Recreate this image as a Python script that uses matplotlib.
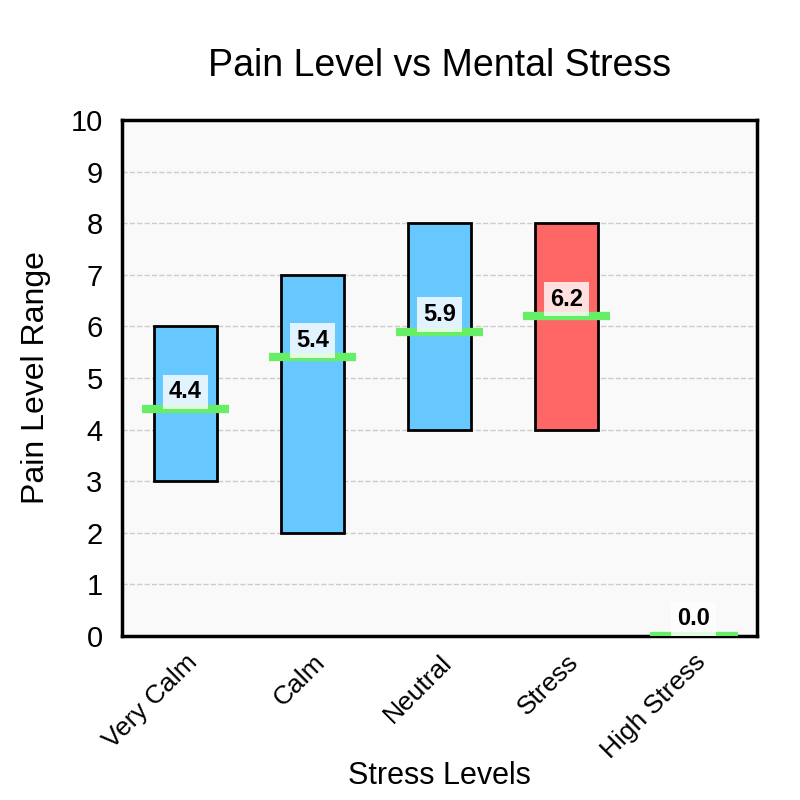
import matplotlib
matplotlib.use("Agg")
from matplotlib import pyplot as plt
import numpy as np

categories = ["Very Calm", "Calm", "Neutral", "Stress", "High Stress"]
low_values = [3, 2, 4, 4, 0]
high_values = [6, 7, 8, 8, 0]
mean_values = [4.4, 5.4, 5.9, 6.2, 0.0]
bar_colors = ["#66c8ff", "#66c8ff", "#66c8ff", "#ff6666", "#66c8ff"]

plt.rcParams['font.family'] = ['Liberation Sans', 'DejaVu Sans']

fig = plt.figure(figsize=(8, 8), dpi=100)
ax = fig.add_axes([0.1525, 0.205, 0.794, 0.645])
ax.set_facecolor("#f9f9f9")

x = np.arange(len(categories))
heights = np.array(high_values) - np.array(low_values)
for i in range(len(categories)):
    if heights[i] > 0:
        ax.bar(x[i], heights[i], bottom=low_values[i], width=0.5,
               color=bar_colors[i], edgecolor="black", linewidth=2, zorder=2)
    ax.hlines(mean_values[i], x[i] - 0.345, x[i] + 0.345, color="#66ee66",
              linewidth=6, zorder=3)
    ax.text(x[i], mean_values[i] + 0.33, f"{mean_values[i]:.1f}", ha="center",
            va="center", fontsize=17, fontweight="bold", zorder=4,
            bbox=dict(boxstyle="square,pad=0.25", facecolor="white",
                      edgecolor="none", alpha=0.8))

ax.set_xlim(-0.5, len(categories) - 0.5)
ax.set_ylim(0, 10)
ax.set_yticks(range(0, 11))
ax.set_xticks(x)
ax.set_xticklabels(categories, rotation=45, ha="right", rotation_mode="anchor",
                   fontsize=19)
ax.tick_params(axis="y", labelsize=21, length=0, pad=14)
ax.tick_params(axis="x", length=0, pad=10)
ax.yaxis.grid(True, linestyle="--", color="#cccccc", linewidth=1, zorder=0)
ax.set_axisbelow(True)
for spine in ax.spines.values():
    spine.set_linewidth(2.5)

ax.set_title("Pain Level vs Mental Stress", fontsize=27, pad=32)
ax.set_ylabel("Pain Level Range", fontsize=23, labelpad=14)
ax.set_xlabel("Stress Levels", fontsize=22)
ax.xaxis.set_label_coords(0.5, -0.272)
ax.xaxis.label.set_va("center")

fig.savefig("out.png", dpi=100, facecolor="white")
